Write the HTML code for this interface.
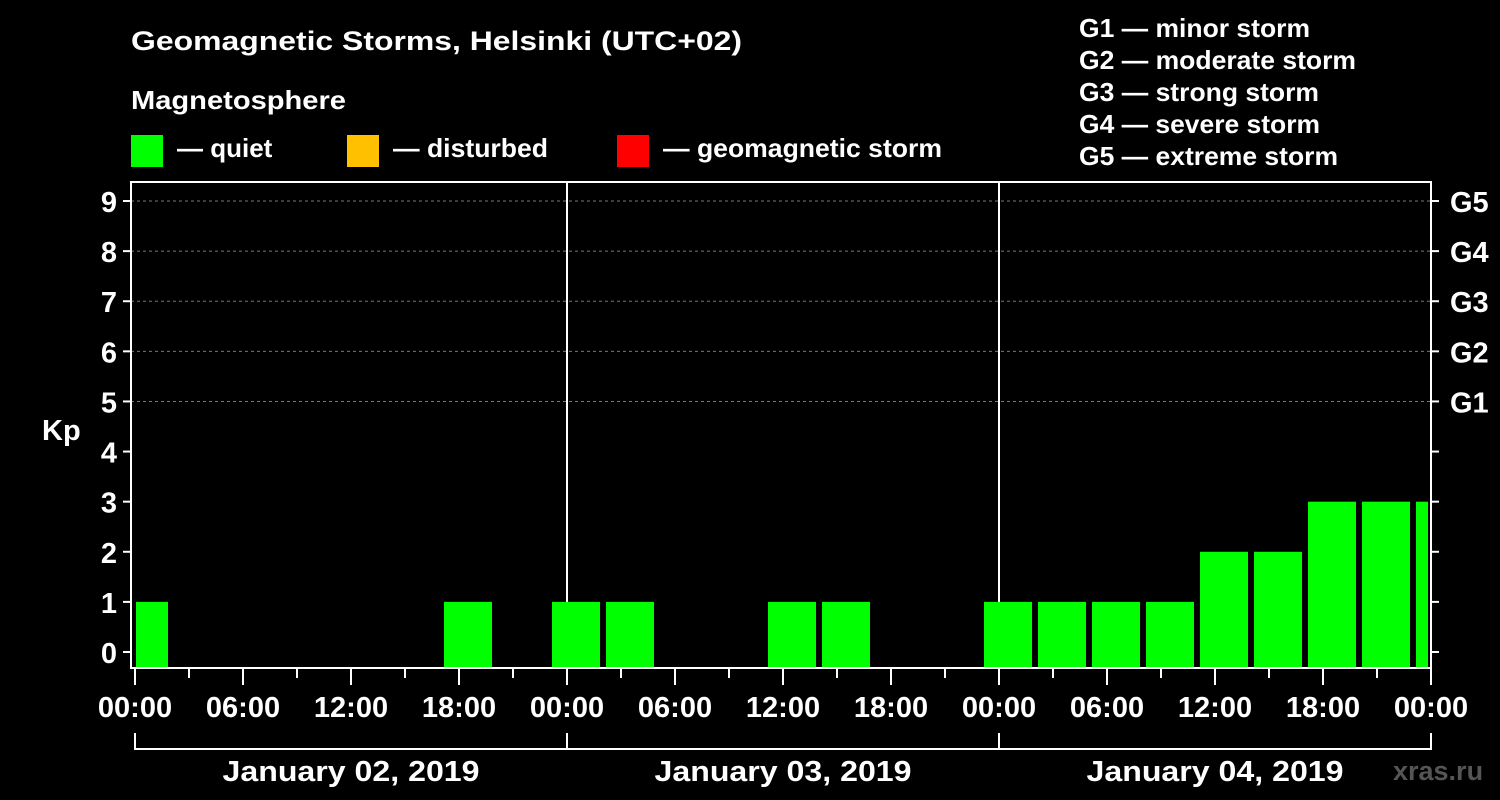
<!DOCTYPE html>
<html><head><meta charset="utf-8"><style>
body{margin:0;background:#000;}
svg{display:block;font-family:"Liberation Sans",Arial,sans-serif;font-weight:bold;}
</style></head><body>
<svg id="chart" width="1500" height="800" xmlns="http://www.w3.org/2000/svg">
<rect width="1500" height="800" fill="#000"/>
<text x="131" y="50" fill="#fff" font-size="27" textLength="611" lengthAdjust="spacingAndGlyphs">Geomagnetic Storms, Helsinki (UTC+02)</text>
<text x="131" y="109" fill="#fff" font-size="26" textLength="215" lengthAdjust="spacingAndGlyphs">Magnetosphere</text>
<g><rect x="131" y="135" width="32" height="32" fill="#00ff00"/><text x="177" y="157" fill="#fff" font-size="26">— quiet</text></g>
<g><rect x="347" y="135" width="32" height="32" fill="#ffc000"/><text x="393" y="157" fill="#fff" font-size="26" textLength="155" lengthAdjust="spacingAndGlyphs">— disturbed</text></g>
<g><rect x="617" y="135" width="32" height="32" fill="#ff0000"/><text x="663" y="157" fill="#fff" font-size="26" textLength="279" lengthAdjust="spacingAndGlyphs">— geomagnetic storm</text></g>
<g fill="#fff" font-size="26">
<text x="1079" y="37" textLength="231" lengthAdjust="spacingAndGlyphs">G1 — minor storm</text>
<text x="1079" y="69" textLength="277" lengthAdjust="spacingAndGlyphs">G2 — moderate storm</text>
<text x="1079" y="101" textLength="240" lengthAdjust="spacingAndGlyphs">G3 — strong storm</text>
<text x="1079" y="133" textLength="241" lengthAdjust="spacingAndGlyphs">G4 — severe storm</text>
<text x="1079" y="165" textLength="259" lengthAdjust="spacingAndGlyphs">G5 — extreme storm</text>
</g>
<text x="42" y="440" fill="#fff" font-size="29">Kp</text>
<text x="1393" y="780" fill="#555" font-size="27">xras.ru</text>
<g id="grid"></g><g id="bars"></g><g id="axes"></g>
</svg>
<script>
const kpValues=[1,0,0,0,0,0,1,0, 1,1,0,0,1,1,0,0, 1,1,1,1,2,2,3,3, 3];
const slotStartHour=-1;
const yTicks=[0,1,2,3,4,5,6,7,8,9];
const gLabels=["G1","G2","G3","G4","G5"];
const gLevels=[5,6,7,8,9];
const xLabels=["00:00","06:00","12:00","18:00","00:00","06:00","12:00","18:00","00:00","06:00","12:00","18:00","00:00"];
const dayLabels=["January 02, 2019","January 03, 2019","January 04, 2019"];
const NS="http://www.w3.org/2000/svg";
const X0=135,PXH=18,L=131,R=1431,T=182,B=668;
const x=h=>X0+h*PXH, y=v=>652-v*50.11;
function mk(t,a,p,txt){const e=document.createElementNS(NS,t);for(const k in a)e.setAttribute(k,a[k]);if(txt!==undefined)e.textContent=txt;p.appendChild(e);return e;}
const grid=document.getElementById('grid'),bars=document.getElementById('bars'),axes=document.getElementById('axes');
gLevels.forEach(v=>{const l=mk('line',{x1:L,x2:R,y1:y(v),y2:y(v),stroke:'#777','stroke-dasharray':'3,3'},grid);

});
[1,2].forEach(d=>{const l=mk('line',{x1:x(24*d),x2:x(24*d),y1:T,y2:B,stroke:'#fff','stroke-width':2},grid);

});
kpValues.forEach((v,i)=>{if(v<=0)return;const c=slotStartHour+1.5+3*i;let x1=x(c)-24,x2=x(c)+24;x1=Math.max(x1,L+5);x2=Math.min(x2,R-3);
const col=v>=5?'#ff0000':(v>=4?'#ffc000':'#00ff00');
const r=mk('rect',{x:x1,y:y(v),width:x2-x1,height:B-y(v),fill:col},bars);

});
mk('rect',{x:L,y:T,width:R-L,height:B-T,fill:'none',stroke:'#fff','stroke-width':2},axes);
yTicks.forEach(v=>{mk('line',{x1:L-8,x2:L,y1:y(v),y2:y(v),stroke:'#fff','stroke-width':2},axes);
mk('line',{x1:R,x2:R+8,y1:y(v),y2:y(v),stroke:'#fff','stroke-width':2},axes);
const t=mk('text',{x:L-14,y:y(v)+11,fill:'#fff','font-size':29,'text-anchor':'end'},axes,String(v));

});
gLabels.forEach((g,i)=>{const t=mk('text',{x:1450,y:y(gLevels[i])+11,fill:'#fff','font-size':29},axes,g);

});
for(let h=0;h<=72;h+=3){mk('line',{x1:x(h),x2:x(h),y1:B,y2:h%6==0?685:678,stroke:'#fff','stroke-width':2},axes);}
xLabels.forEach((s,i)=>{const t=mk('text',{x:x(i*6),y:717,fill:'#fff','font-size':29,'text-anchor':'middle'},axes,s);

});
mk('line',{x1:x(0),x2:x(72),y1:749,y2:749,stroke:'#fff','stroke-width':2},axes);
for(let d=0;d<=3;d++)mk('line',{x1:x(24*d),x2:x(24*d),y1:733,y2:750,stroke:'#fff','stroke-width':2},axes);
dayLabels.forEach((s,i)=>{const t=mk('text',{x:x(24*i+12),y:781,fill:'#fff','font-size':29,'text-anchor':'middle',textLength:257,lengthAdjust:'spacingAndGlyphs'},axes,s);

});
</script>
</body></html>
